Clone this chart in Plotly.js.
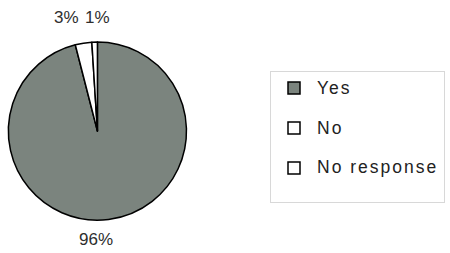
<!DOCTYPE html>
<html><head><meta charset="utf-8">
<script src="https://cdn.plot.ly/plotly-3.0.1.min.js"></script>
<style>
html,body{margin:0;padding:0;background:#fff}
#chart{width:450px;height:253px}
.legendtext{font-size:17.5px !important;letter-spacing:2px}
</style>
</head><body><div id="chart"></div>
<script>
const categories = ["Yes", "No", "No response"];
const values = [96, 3, 1];
const sliceColors = ["#7b847e", "#ffffff", "#ffffff"];

const total = values.reduce((a, b) => a + b, 0);
const pctText = values.map(v => Math.round(v / total * 100) + "%");
const legendLabels = categories.map(c => c + "<br> ");

const trace = {
  type: "pie",
  labels: legendLabels,
  values: values,
  sort: false,
  direction: "clockwise",
  rotation: 0,
  marker: {colors: sliceColors, line: {color: "#000", width: 1.5}},
  textinfo: "none",
  domain: {x: [0.018, 0.415], y: [0.13, 0.834]},
  hoverinfo: "label+percent"
};

const labelFont = {family: "Liberation Sans, Arial, sans-serif", size: 17, color: "#2e2e2e"};
const labelPos = [[0.2133, 0.0514], [0.1467, 0.9328], [0.2156, 0.9328]];
const annotations = pctText.map((t, i) => ({
  text: t, xref: "paper", yref: "paper",
  x: labelPos[i][0], y: labelPos[i][1],
  xanchor: "center", yanchor: "middle",
  showarrow: false, font: labelFont
}));

const layout = {
  width: 450, height: 253,
  margin: {l: 0, r: 0, t: 0, b: 0},
  paper_bgcolor: "#fff",
  showlegend: true,
  annotations: annotations,
  legend: {
    x: 0.6, y: 0.718, xanchor: "left", yanchor: "top",
    bordercolor: "#d8d8d8", borderwidth: 1,
    font: {family: "Liberation Sans, Arial, sans-serif", size: 14.2, color: "#222"},
    valign: "top",
    itemwidth: 36
  }
};
Plotly.newPlot("chart", [trace], layout, {displayModeBar: false, staticPlot: true});
</script></body></html>
